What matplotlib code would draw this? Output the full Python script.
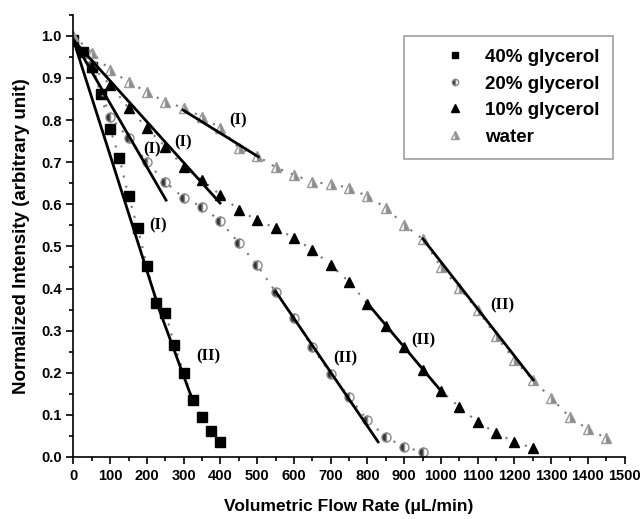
import numpy as np
import matplotlib
matplotlib.use('Agg')
import matplotlib.pyplot as plt
from matplotlib.ticker import MultipleLocator

# data
x40 = [0, 25, 50, 75, 100, 125, 150, 175, 200, 225, 250, 275, 300, 325, 350, 375, 400]
y40 = [0.99, 0.962, 0.926, 0.862, 0.779, 0.710, 0.620, 0.544, 0.454, 0.365, 0.343, 0.267,
       0.200, 0.135, 0.095, 0.061, 0.036]

x20 = [0, 50, 100, 150, 200, 250, 300, 350, 400, 450, 500, 550, 600, 650, 700, 750, 800,
       850, 900, 950]
y20 = [0.99, 0.93, 0.808, 0.757, 0.700, 0.653, 0.615, 0.594, 0.560, 0.508, 0.456, 0.392,
       0.330, 0.260, 0.198, 0.142, 0.088, 0.047, 0.024, 0.012]

x10 = [0, 50, 100, 150, 200, 250, 300, 350, 400, 450, 500, 550, 600, 650, 700, 750, 800,
       850, 900, 950, 1000, 1050, 1100, 1150, 1200, 1250]
y10 = [0.99, 0.926, 0.884, 0.829, 0.781, 0.737, 0.689, 0.658, 0.622, 0.587, 0.562, 0.544,
       0.520, 0.492, 0.456, 0.416, 0.364, 0.312, 0.261, 0.207, 0.157, 0.119, 0.083, 0.057,
       0.036, 0.021]

xw = [0, 50, 100, 150, 200, 250, 300, 350, 400, 450, 500, 550, 600, 650, 700, 750, 800,
      850, 900, 950, 1000, 1050, 1100, 1150, 1200, 1250, 1300, 1350, 1400, 1450]
yw = [1.0, 0.96, 0.919, 0.89, 0.867, 0.843, 0.829, 0.808, 0.781, 0.734, 0.715, 0.688,
      0.670, 0.653, 0.648, 0.639, 0.619, 0.592, 0.551, 0.518, 0.451, 0.401, 0.349, 0.287,
      0.230, 0.183, 0.140, 0.095, 0.066, 0.045]

# linear fit segments (x0, y0, x1, y1) and label positions
fits = [
    (0, 0.99, 230, 0.36), (225, 0.37, 325, 0.133),      # 40%
    (0, 0.99, 252, 0.61), (551, 0.392, 829, 0.036),     # 20%
    (0, 0.99, 399, 0.603), (799, 0.366, 1000, 0.157),   # 10%
    (298, 0.824, 503, 0.713), (951, 0.518, 1251, 0.183),  # water
]
fit_labels = ['(I)', '(II)', '(I)', '(II)', '(I)', '(II)', '(I)', '(II)']
label_x = [230, 366, 214, 739, 298, 952, 448, 1167]
label_y = [0.551, 0.24, 0.73, 0.233, 0.746, 0.276, 0.80, 0.361]

plt.rcParams['font.family'] = ['Liberation Sans', 'DejaVu Sans']
plt.rcParams['font.weight'] = 'bold'

fig = plt.figure(figsize=(6.44, 5.19), dpi=100)
ax = fig.add_axes([0.114, 0.1195, 0.856, 0.852])

dot = dict(color='#777777', linestyle=(0, (1, 4)), linewidth=1.5)

ax.plot(x40, y40, **dot, marker='s', markersize=6.5, markerfacecolor='black',
        markeredgecolor='black', label='40% glycerol')
ax.plot(x20, y20, **dot, marker='o', markersize=6.5, fillstyle='left',
        markerfacecolor='#333333', markerfacecoloralt='white', markeredgecolor='#888888',
        label='20% glycerol')
ax.plot(x10, y10, **dot, marker='^', markersize=7.5, markerfacecolor='black',
        markeredgecolor='black', label='10% glycerol')
ax.plot(xw, yw, **dot, marker='^', markersize=7.5, fillstyle='right',
        markerfacecolor='#888888', markerfacecoloralt='white', markeredgecolor='#999999',
        label='water')

for (x0, y0, x1, y1) in fits:
    ax.plot([x0, x1], [y0, y1], color='black', linewidth=2, zorder=3)

for t, lx, ly in zip(fit_labels, label_x, label_y):
    ax.text(lx, ly, t, fontsize=12, fontweight='bold', family='Liberation Serif',
            ha='center', va='center')

ax.set_xlim(0, 1500)
ax.set_ylim(0, 1.05)
ax.xaxis.set_major_locator(MultipleLocator(100))
ax.xaxis.set_minor_locator(MultipleLocator(50))
ax.yaxis.set_minor_locator(MultipleLocator(0.05))
ax.set_yticks(np.arange(0, 1.01, 0.1))
ax.set_yticklabels(['%.1f' % v for v in np.arange(0, 1.01, 0.1)])
ax.tick_params(which='major', length=5, width=1.2, labelsize=10.5)
ax.tick_params(which='minor', length=3, width=1.2)
ax.spines['top'].set_visible(False)
ax.spines['right'].set_visible(False)
for s in ['left', 'bottom']:
    ax.spines[s].set_linewidth(1.2)

ax.set_xlabel('Volumetric Flow Rate (\u03bcL/min)', fontsize=12.5, fontweight='bold', labelpad=12)
ax.set_ylabel('Normalized Intensity (arbitrary unit)', fontsize=13.5, fontweight='bold',
              labelpad=8)

leg = ax.legend(loc='upper right', bbox_to_anchor=(0.9786, 0.9525), borderaxespad=0,
                fontsize=13.5, markerscale=0.7, handlelength=4.0, handletextpad=-0.37,
                labelspacing=0.5, borderpad=0.7, fancybox=False, edgecolor='#888888')
leg.get_frame().set_linewidth(1.2)
for h in leg.get_lines():
    h.set_linestyle('none')

fig.savefig('out.png', dpi=100)
